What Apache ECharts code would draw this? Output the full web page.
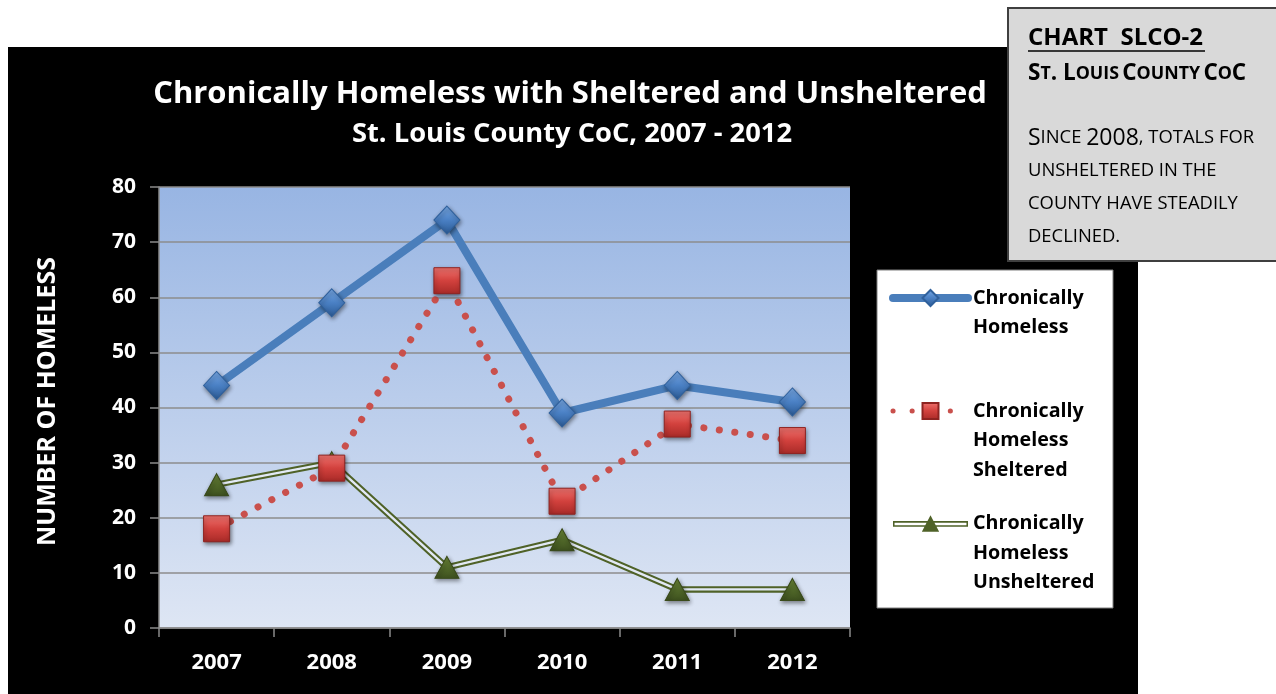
<!DOCTYPE html>
<html><head><meta charset="utf-8">
<script src="https://cdn.jsdelivr.net/npm/echarts@6/dist/echarts.min.js"></script>
<style>html,body{margin:0;padding:0;background:#fff}#c{width:1276px;height:694px}</style>
</head><body><div id="c"></div>
<script>
// ---- data ----
const years = ['2007', '2008', '2009', '2010', '2011', '2012'];
const chronicTotal = [44, 59, 74, 39, 44, 41];
const chronicSheltered = [18, 29, 63, 23, 37, 34];
const chronicUnsheltered = [26, 30, 11, 16, 7, 7];
const yMin = 0, yMax = 80, yStep = 10;
const seriesNames = ['Chronically Homeless', 'Chronically Homeless Sheltered', 'Chronically Homeless Unsheltered'];
const legendLines = [
  ['Chronically', 'Homeless'],
  ['Chronically', 'Homeless', 'Sheltered'],
  ['Chronically', 'Homeless', 'Unsheltered']
];
const titleText = 'Chronically Homeless with Sheltered and Unsheltered';
const subtitleText = 'St. Louis County CoC, 2007 - 2012';
const yAxisName = 'NUMBER OF HOMELESS';

const FONT = 'Open Sans';
const grad = (a, b, c) => ({type: 'linear', x: 0, y: 0, x2: 0, y2: 1,
  colorStops: [{offset: 0, color: a}, {offset: 0.5, color: b}, {offset: 1, color: c}]});
const shadow = {shadowColor: 'rgba(0,0,0,0.45)', shadowBlur: 4, shadowOffsetX: 1, shadowOffsetY: 2};

// legend: one component per entry so the icon sits beside the first text line
const LEG_LH = 29.5, LEG_IH = 20;
const legendIconCenters = [298, 411, 523.5];
const legendLefts = [889, 890.5, 893];
const legendItemOpts = [
  {name: seriesNames[0], lineStyle: {width: 8}},
  {name: seriesNames[1], lineStyle: {width: 5, type: [0.1, 19]}},
  {name: seriesNames[2], itemStyle: {color: '#4f6228'},
   icon: 'path://M0,7 L78,7 L78,8.6 L0,8.6 Z M0,11.4 L78,11.4 L78,13 L0,13 Z M0,7 L1.6,7 L1.6,13 L0,13 Z M76.4,7 L78,7 L78,13 L76.4,13 Z M39,1 L48,18 L30,18 Z'}
];
const legends = legendLines.map((lines, i) => {
  const below = lines.length - 1;
  const padded = Array(below).fill(' ').concat(lines); // blank lines above balance lines below
  const total = padded.length;
  const blockTop = LEG_IH / 2 - total * LEG_LH / 2;
  return {
    orient: 'vertical', left: legendLefts[i], top: legendIconCenters[i] - LEG_IH / 2 + blockTop, padding: 0,
    itemWidth: 75, itemHeight: LEG_IH, selectedMode: false,
    formatter: () => padded.join('\n'),
    textStyle: {color: '#000', fontFamily: FONT, fontWeight: 'bold', fontSize: 19.7, lineHeight: LEG_LH},
    data: [legendItemOpts[i]]
  };
});

const chart = echarts.init(document.getElementById('c'), null, {renderer: 'canvas'});
const option = {
  backgroundColor: '#ffffff',
  animation: false,
  title: [
    {text: titleText, left: 570, top: 78, textAlign: 'center', padding: 0,
     textStyle: {color: '#fff', fontFamily: FONT, fontWeight: 'bold', fontSize: 31, lineHeight: 32}},
    {text: subtitleText, left: 572, top: 119, textAlign: 'center', padding: 0,
     textStyle: {color: '#fff', fontFamily: FONT, fontWeight: 'bold', fontSize: 27.3, lineHeight: 30}}
  ],
  grid: {left: 159, top: 187, width: 691, height: 441, show: true, borderWidth: 0,
    backgroundColor: {type: 'linear', x: 0, y: 0, x2: 0, y2: 1,
      colorStops: [{offset: 0, color: '#98b5e3'}, {offset: 1, color: '#dee6f4'}]}},
  xAxis: {
    type: 'category', data: years, boundaryGap: true,
    axisLine: {show: true, lineStyle: {color: '#8a8a8a', width: 1.5}},
    axisTick: {show: true, interval: 0, alignWithLabel: false, length: 9, lineStyle: {color: '#8a8a8a', width: 1.5}},
    axisLabel: {color: '#fff', fontFamily: FONT, fontWeight: 'bold', fontSize: 22, margin: 24},
    splitLine: {show: false}
  },
  yAxis: {
    type: 'value', min: yMin, max: yMax, interval: yStep,
    name: yAxisName, nameLocation: 'middle', nameRotate: 90, nameGap: 99,
    nameTextStyle: {color: '#fff', fontFamily: FONT, fontWeight: 'bold', fontSize: 25, padding: [0, 0, 0, 12]},
    axisLine: {show: true, lineStyle: {color: '#8a8a8a', width: 1.5}},
    axisTick: {show: true, length: 9, lineStyle: {color: '#8a8a8a', width: 1.5}},
    axisLabel: {color: '#fff', fontFamily: FONT, fontWeight: 'bold', fontSize: 21, margin: 23},
    splitLine: {show: true, lineStyle: {color: '#8c8c8c', width: 1.5}}
  },
  legend: legends,
  graphic: {elements: [
    {type: 'rect', silent: true, z: -10, shape: {x: 8, y: 47, width: 1130, height: 647}, style: {fill: '#000'}},
    {type: 'rect', silent: true, z: 3, shape: {x: 877, y: 270, width: 236, height: 338}, style: {fill: '#fff', stroke: '#7f7f7f', lineWidth: 1}},
    {type: 'rect', silent: true, z: 20, shape: {x: 1008, y: 8, width: 270, height: 253}, style: {fill: '#d9d9d9', stroke: '#3f3f3f', lineWidth: 2}},
    {type: 'text', silent: true, z: 21, style: {x: 1028, y: 38, verticalAlign: 'middle', text: 'CHART  SLCO-2', fill: '#000',
      fontFamily: FONT, fontWeight: 'bold', fontSize: 24}},
    {type: 'line', silent: true, z: 21, shape: {x1: 1028, y1: 51, x2: 1205, y2: 51}, style: {stroke: '#000', lineWidth: 1.5}},
    {type: 'text', silent: true, z: 21, style: {x: 1028, y: 74, verticalAlign: 'middle', fill: '#000',
      text: '{b|S}{s|T}{b|. L}{s|OUIS} {b|C}{s|OUNTY} {b|C}{s|O}{b|C}',
      rich: {b: {fontFamily: FONT, fontWeight: 'bold', fontSize: 22.5, fill: '#000'}, s: {fontFamily: FONT, fontWeight: 'bold', fontSize: 17.8, fill: '#000'}}}},
    {type: 'text', silent: true, z: 21, style: {x: 1028, y: 138, verticalAlign: 'middle', fill: '#000',
      text: '{b|S}{s|INCE }{b|2008}{s|, TOTALS FOR}',
      rich: {b: {fontFamily: FONT, fontSize: 23, fill: '#000'}, s: {fontFamily: FONT, fontSize: 18.4, fill: '#000'}}}},
    {type: 'text', silent: true, z: 21, style: {x: 1028, y: 171, verticalAlign: 'middle', fill: '#000',
      text: 'UNSHELTERED IN THE', fontFamily: FONT, fontSize: 18.4}},
    {type: 'text', silent: true, z: 21, style: {x: 1028, y: 204, verticalAlign: 'middle', fill: '#000',
      text: 'COUNTY HAVE STEADILY', fontFamily: FONT, fontSize: 18.4}},
    {type: 'text', silent: true, z: 21, style: {x: 1028, y: 237, verticalAlign: 'middle', fill: '#000',
      text: 'DECLINED.', fontFamily: FONT, fontSize: 18.4}}
  ]},
  series: [
    {name: seriesNames[0], type: 'line', data: chronicTotal, z: 6,
     lineStyle: {color: '#4a7ebb', width: 8, cap: 'round', join: 'round'},
     symbol: 'diamond', symbolSize: [26, 28],
     itemStyle: Object.assign({color: grad('#7aabe8', '#4a80c4', '#2b5a94'), borderColor: '#2f609c', borderWidth: 1}, shadow)},
    {name: seriesNames[1], type: 'line', data: chronicSheltered, z: 5,
     lineStyle: {color: '#c9504c', width: 7, type: [0.1, 15.5], cap: 'round'},
     symbol: 'rect', symbolSize: 26,
     itemStyle: Object.assign({color: grad('#f07470', '#d2413d', '#a82a27'), borderColor: '#8e2320', borderWidth: 1}, shadow)},
    {name: seriesNames[2], type: 'line', data: chronicUnsheltered, z: 2,
     lineStyle: {color: '#4f6228', width: 6.5, join: 'round'},
     symbol: 'triangle', symbolSize: [24, 22],
     itemStyle: {color: '#4f6228'}},
    {name: '_unsheltered_inner', type: 'line', data: chronicUnsheltered, z: 3, silent: true,
     lineStyle: {color: '#e2e9f5', width: 2.4, join: 'round'}, symbol: 'none', tooltip: {show: false}},
    {name: '_unsheltered_marks', type: 'line', data: chronicUnsheltered, z: 4,
     lineStyle: {width: 0, opacity: 0}, symbol: 'triangle', symbolSize: [24, 22],
     itemStyle: Object.assign({color: grad('#728e3c', '#526a2a', '#3d501e'), borderColor: '#3a4b1c', borderWidth: 1}, shadow)}
  ]
};
chart.setOption(option);
</script></body></html>
